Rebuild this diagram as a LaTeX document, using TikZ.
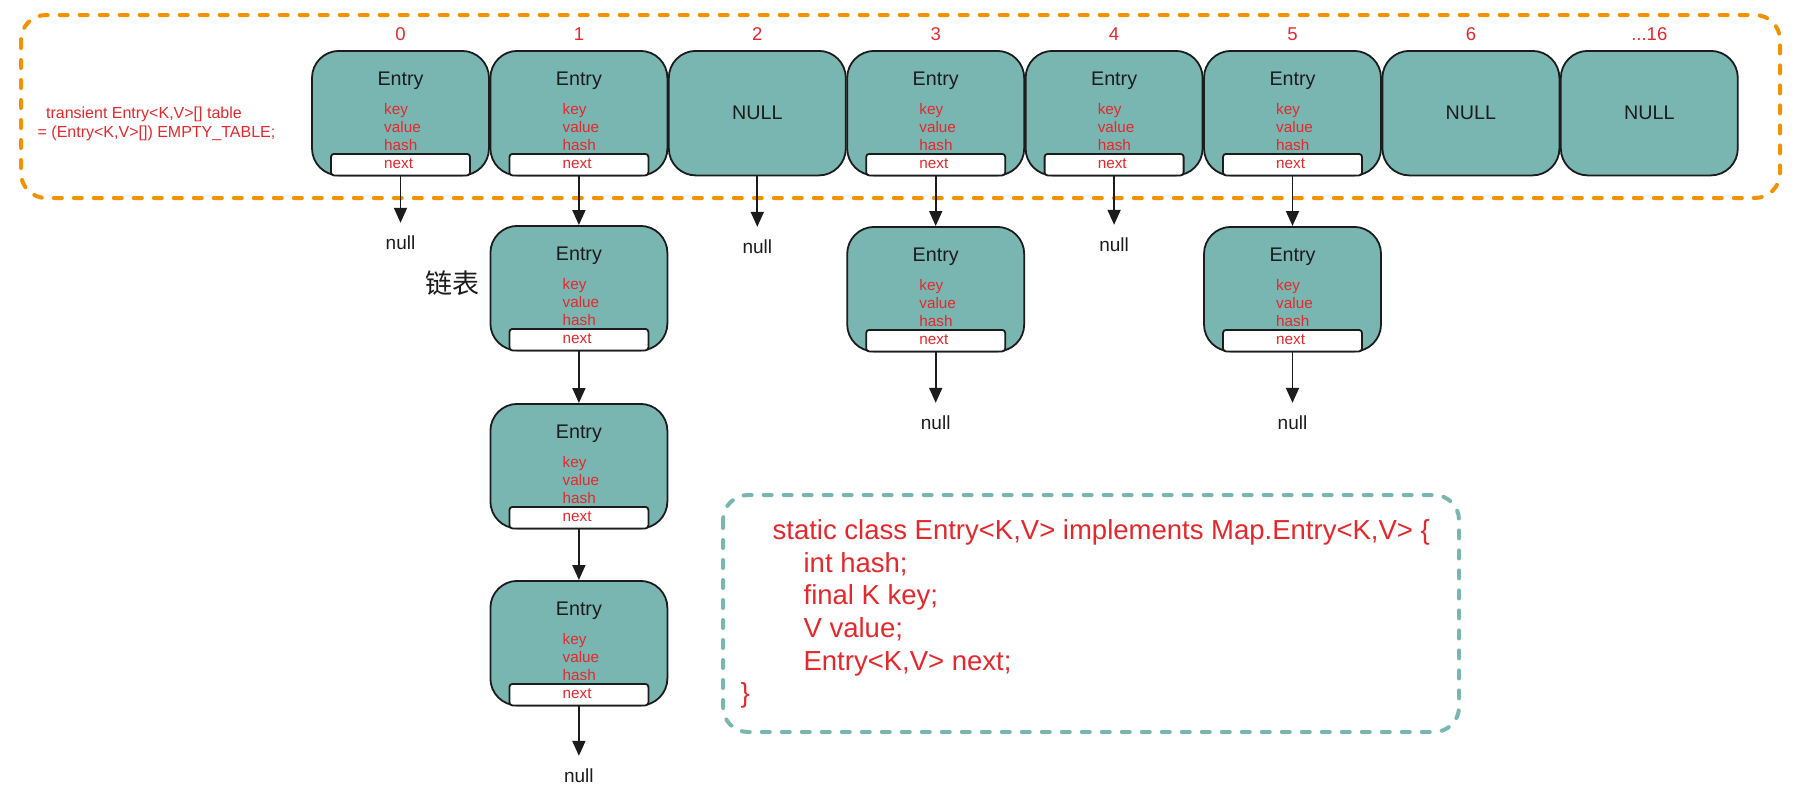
\documentclass[tikz,border=0pt]{standalone}
\usepackage{fontspec}
\setmainfont{Liberation Sans}
\newfontfamily\cjkfont{Noto Sans CJK SC}
\usetikzlibrary{calc,arrows.meta}
\definecolor{cellfill}{RGB}{122,182,177}
\definecolor{fieldred}{RGB}{228,40,44}
\definecolor{arrayorange}{RGB}{243,146,0}
\definecolor{ink}{RGB}{28,28,28}
\tikzset{
	cell/.style={draw=ink, line width=1.8pt, fill=cellfill, rounded corners=27pt, minimum width=177pt, minimum height=124.5pt, inner sep=0pt, font={\fontsize{19.7}{23}\selectfont}, text=ink},
	nextcell/.style={draw=ink, line width=1.8pt, fill=white, rounded corners=3pt, minimum width=139pt, minimum height=21.5pt, inner sep=0pt},
	entrytext/.style={font={\fontsize{19.7}{23}\selectfont}, text=ink, inner sep=0pt},
	fields/.style={font={\fontsize{15.3}{18}\selectfont}, text=fieldred, align=left, inner sep=0pt},
	idx/.style={font={\fontsize{18.5}{22}\selectfont}, text=fieldred, inner sep=0pt},
	nulltext/.style={font={\fontsize{19}{23}\selectfont}, text=ink, inner xsep=2pt, inner ysep=13pt},
	link/.style={draw=ink, line width=1.8pt, -{Triangle[length=15pt,width=13pt]}},
	dashbox/.style={line width=4pt, dash pattern=on 8pt off 12pt, line cap=round, rounded corners=25pt}
}
\def\entrycell(#1)(#2,#3){%
	\node[cell, anchor=north] (#1) at (#2,#3) {};
	\node[nextcell, anchor=south] (#1-next) at (#1.south) {};
	\node[entrytext] (#1-title) at ($(#1.north)+(0,31)$) {Entry};
	\node[fields] (#1-fields) at ($(#1.north)+(2,86)$) {key\\value\\hash\\next};
}

\begin{document}
\begin{tikzpicture}[x=1pt, y=-1pt]
		%%%%% START %%%%%
		\path[use as bounding box, fill=white] (0,0) rectangle (1794,796);
		
		\draw[dashbox, draw=arrayorange] (21,15) rectangle (1780,198);
		\draw[dashbox, draw=cellfill] (723,495) rectangle (1459,732);
		
		\node[fields, font={\fontsize{16}{19.4}\selectfont}, anchor=north west] (tabledecl) at (37.5,106.6)
			{\hspace*{8.4pt}transient Entry<K,V>[] table\\= (Entry<K,V>[]) EMPTY\_TABLE;};
		
		% array slots
		\entrycell(b0)(400.5,50)
		\entrycell(b1)(578.9,50)
		\node[cell, anchor=north] (b2) at (757.3,50) {NULL};
		\entrycell(b3)(935.7,50)
		\entrycell(b4)(1114.1,50)
		\entrycell(b5)(1292.5,50)
		\node[cell, anchor=north] (b6) at (1470.9,50) {NULL};
		\node[cell, anchor=north] (b7) at (1649.3,50) {NULL};
		
		\node[idx] (i0) at (400.5,34) {0};
		\node[idx] (i1) at (578.9,34) {1};
		\node[idx] (i2) at (757.3,34) {2};
		\node[idx] (i3) at (935.7,34) {3};
		\node[idx] (i4) at (1114.1,34) {4};
		\node[idx] (i5) at (1292.5,34) {5};
		\node[idx] (i6) at (1470.9,34) {6};
		\node[idx] (i7) at (1649.3,34) {...16};
		
		% linked entries
		\entrycell(c1a)(578.9,225)
		\entrycell(c1b)(578.9,403)
		\entrycell(c1c)(578.9,580)
		\entrycell(c3a)(935.7,226)
		\entrycell(c5a)(1292.5,226)
		
		\node[font={\fontsize{27}{30}\selectfont\cjkfont}, text=ink] (chainlabel) at (452,283) {链表};
		
		\node[nulltext] (n0) at (400.5,243) {null};
		\node[nulltext] (n2) at (757.3,247) {null};
		\node[nulltext] (n4) at (1114.1,245) {null};
		\node[nulltext] (n3) at (935.7,423) {null};
		\node[nulltext] (n5) at (1292.5,423) {null};
		\node[nulltext] (n1) at (578.9,776) {null};
		
		\draw[link] (b0-next.south) -- (n0.north);
		\draw[link] (b1-next.south) -- (c1a.north);
		\draw[link] (b2.south) -- (n2.north);
		\draw[link] (b3-next.south) -- (c3a.north);
		\draw[link] (b4-next.south) -- (n4.north);
		\draw[link] (b5-next.south) -- (c5a.north);
		\draw[link] (c1a-next.south) -- (c1b.north);
		\draw[link] (c1b-next.south) -- (c1c.north);
		\draw[link] (c1c-next.south) -- (n1.north);
		\draw[link] (c3a-next.south) -- (n3.north);
		\draw[link] (c5a-next.south) -- (n5.north);
		
		% class source
		\node[fields, font={\fontsize{27.5}{32.6}\selectfont}, anchor=north west] (entrycode) at (740.4,519.5)
			{\hspace*{32pt}static class Entry<K,V> implements Map.Entry<K,V> \{\\
			\hspace*{63pt}int hash;\\
			\hspace*{63pt}final K key;\\
			\hspace*{63pt}V value;\\
			\hspace*{63pt}Entry<K,V> next;\\
			\}};
		%%%%% END %%%%%
\end{tikzpicture}
\end{document}
